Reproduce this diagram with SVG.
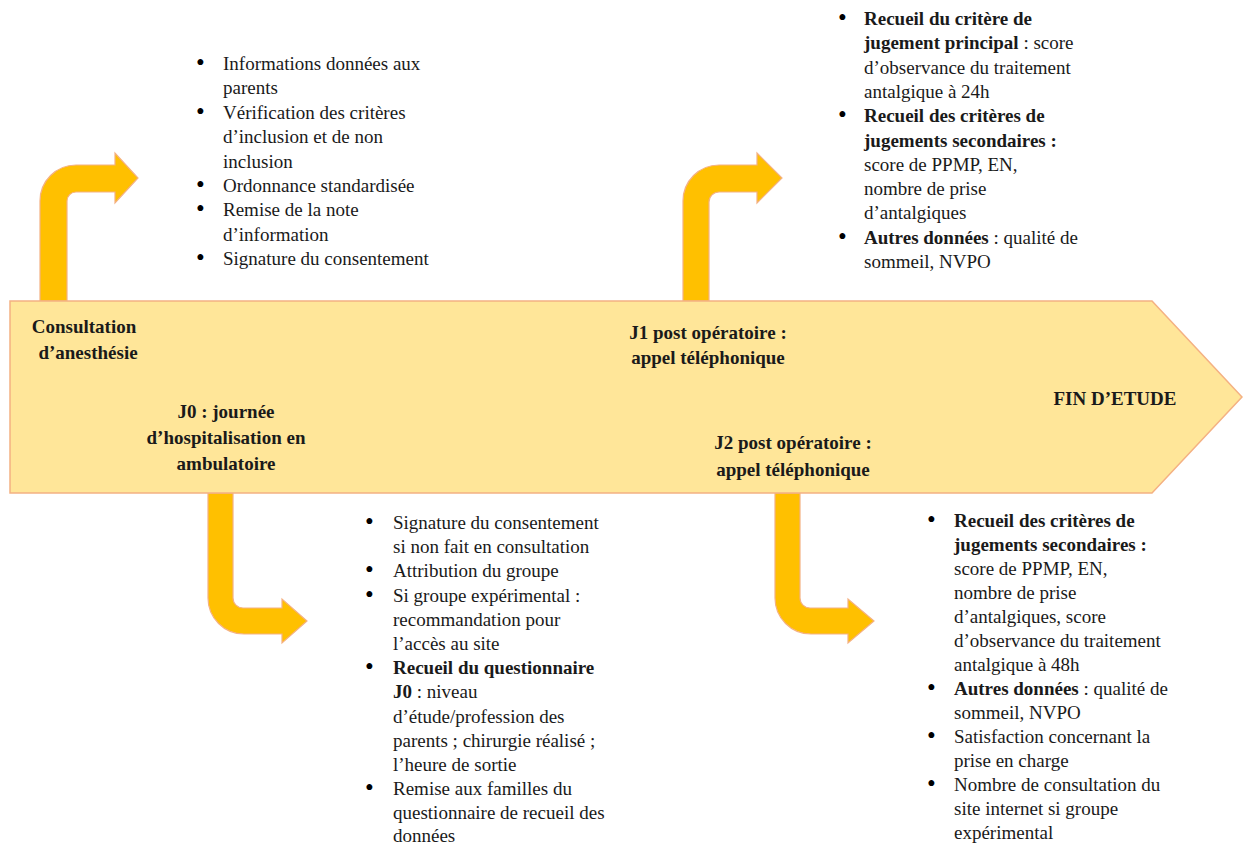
<svg xmlns="http://www.w3.org/2000/svg" width="1243" height="843" viewBox="0 0 1243 843">
<style>
text{font-family:"Liberation Serif","Times New Roman",serif;font-size:19px;fill:#1a1a1a}
.b{font-weight:bold}
.lbl{font-weight:bold;text-anchor:middle}
.bu{font-size:25px;fill:#000}
.bent{fill:#FFC000;stroke:#F4B183;stroke-width:1.2}
.main{fill:#FFE699;stroke:#F4B183;stroke-width:1.5}
</style>
<rect width="1243" height="843" fill="#ffffff"/>
<g id="connectors">
<path class="bent" d="M40,301 V201 A36,36 0 0 1 76,165 H115 V153 L138,178 L115,203 V192 H76 A9,9 0 0 0 67,201 V301 Z"/>
<path class="bent" d="M683,301 V201 A36,36 0 0 1 719,165 H757 V153 L782,178 L757,203 V192 H719 A10,10 0 0 0 709,202 V301 Z"/>
<path class="bent" d="M208,493 V598 A36,36 0 0 0 244,634 H282 V643 L307,621 L282,599 V608 H243 A10,10 0 0 1 233,598 V493 Z"/>
<path class="bent" d="M775,493 V598 A36,36 0 0 0 811,634 H848 V643 L874,621 L848,599 V608 H810 A10,10 0 0 1 800,598 V493 Z"/>
</g>
<g id="timeline">
<polygon class="main" points="10,301 1152,301 1242,397 1152,493 10,493"/>
</g>
<g id="consultation">
<text class="lbl" x="84" y="333">Consultation</text>
<text class="lbl" x="88" y="359">d’anesthésie</text>
</g>
<g id="j1">
<text class="lbl" x="708" y="339">J1 post opératoire :</text>
<text class="lbl" x="708" y="364">appel téléphonique</text>
</g>
<g id="j0">
<text class="lbl" x="226" y="418">J0 : journée</text>
<text class="lbl" x="226" y="444">d’hospitalisation en</text>
<text class="lbl" x="226" y="470">ambulatoire</text>
</g>
<g id="j2">
<text class="lbl" x="793" y="449">J2 post opératoire :</text>
<text class="lbl" x="793" y="476">appel téléphonique</text>
</g>
<g id="fin">
<text class="lbl" x="1115" y="405">FIN D’ETUDE</text>
</g>
<g id="list-consultation">
<text class="bu" x="196" y="71">•</text><text x="223" y="70">Informations données aux</text>
<text x="223" y="94.4">parents</text>
<text class="bu" x="196" y="119.8">•</text><text x="223" y="118.8">Vérification des critères</text>
<text x="223" y="143.2">d’inclusion et de non</text>
<text x="223" y="167.6">inclusion</text>
<text class="bu" x="196" y="193">•</text><text x="223" y="192">Ordonnance standardisée</text>
<text class="bu" x="196" y="217.4">•</text><text x="223" y="216.4">Remise de la note</text>
<text x="223" y="240.8">d’information</text>
<text class="bu" x="196" y="266.2">•</text><text x="223" y="265.2">Signature du consentement</text>
</g>
<g id="list-j1">
<text class="bu" x="838" y="26">•</text><text x="864" y="25" class="b">Recueil du critère de</text>
<text x="864" y="49.3"><tspan class="b">jugement principal</tspan> : score</text>
<text x="864" y="73.6">d’observance du traitement</text>
<text x="864" y="97.9">antalgique à 24h</text>
<text class="bu" x="838" y="123.2">•</text><text x="864" y="122.2" class="b">Recueil des critères de</text>
<text x="864" y="146.5" class="b">jugements secondaires :</text>
<text x="864" y="170.8">score de PPMP, EN,</text>
<text x="864" y="195.1">nombre de prise</text>
<text x="864" y="219.4">d’antalgiques</text>
<text class="bu" x="838" y="244.7">•</text><text x="864" y="243.7"><tspan class="b">Autres données</tspan> : qualité de</text>
<text x="864" y="268">sommeil, NVPO</text>
</g>
<g id="list-j0">
<text class="bu" x="365" y="530">•</text><text x="393" y="529">Signature du consentement</text>
<text x="393" y="553.2">si non fait en consultation</text>
<text class="bu" x="365" y="578.4">•</text><text x="393" y="577.4">Attribution du groupe</text>
<text class="bu" x="365" y="602.6">•</text><text x="393" y="601.6">Si groupe expérimental :</text>
<text x="393" y="625.8">recommandation pour</text>
<text x="393" y="650">l’accès au site</text>
<text class="bu" x="365" y="675.2">•</text><text x="393" y="674.2" class="b">Recueil du questionnaire</text>
<text x="393" y="698.4"><tspan class="b">J0</tspan> : niveau</text>
<text x="393" y="722.6">d’étude/profession des</text>
<text x="393" y="746.8">parents ; chirurgie réalisé ;</text>
<text x="393" y="771">l’heure de sortie</text>
<text class="bu" x="365" y="796.2">•</text><text x="393" y="795.2">Remise aux familles du</text>
<text x="393" y="819.4">questionnaire de recueil des</text>
<text x="393" y="842">données</text>
</g>
<g id="list-j2">
<text class="bu" x="927" y="528">•</text><text x="954" y="527" class="b">Recueil des critères de</text>
<text x="954" y="551" class="b">jugements secondaires :</text>
<text x="954" y="575">score de PPMP, EN,</text>
<text x="954" y="599">nombre de prise</text>
<text x="954" y="623">d’antalgiques, score</text>
<text x="954" y="647">d’observance du traitement</text>
<text x="954" y="671">antalgique à 48h</text>
<text class="bu" x="927" y="696">•</text><text x="954" y="695"><tspan class="b">Autres données</tspan> : qualité de</text>
<text x="954" y="719">sommeil, NVPO</text>
<text class="bu" x="927" y="744">•</text><text x="954" y="743">Satisfaction concernant la</text>
<text x="954" y="767">prise en charge</text>
<text class="bu" x="927" y="792">•</text><text x="954" y="791">Nombre de consultation du</text>
<text x="954" y="815">site internet si groupe</text>
<text x="954" y="839">expérimental</text>
</g>
</svg>
